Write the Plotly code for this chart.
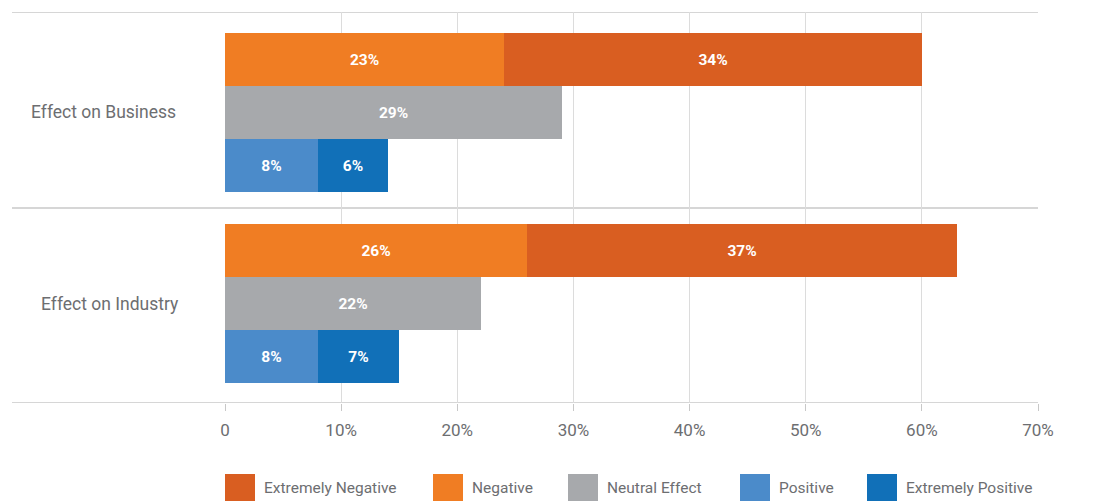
import plotly.graph_objects as go

# ---- data ----
categories = ["Effect on Business", "Effect on Industry"]
negative = [24, 26]
extremely_negative = [36, 37]
neutral = [29, 22]
positive = [8, 8]
extremely_positive = [6, 7]

negative_labels = ["23%", "26%"]
extremely_negative_labels = ["34%", "37%"]
neutral_labels = ["29%", "22%"]
positive_labels = ["8%", "8%"]
extremely_positive_labels = ["6%", "7%"]

x_ticks = [0, 10, 20, 30, 40, 50, 60, 70]
x_tick_labels = ["0", "10%", "20%", "30%", "40%", "50%", "60%", "70%"]

legend_names = ["Extremely Negative", "Negative", "Neutral Effect", "Positive", "Extremely Positive"]

# ---- style ----
colors = {"Extremely Negative": "#D95E21", "Negative": "#F07D23", "Neutral Effect": "#A7A9AC",
          "Positive": "#4B8BCA", "Extremely Positive": "#1170B8"}
FONT = "Roboto"
GREY_TXT = "#6d6e71"
GRID = "#dcdcdc"

BAND = 3.62
OFFSET = 0.9
Y_RANGE = [0, 7.4]

# page offset of the plot (the page body adds 8px)
FIG_W, FIG_H = 1104, 493
M_L, M_R, M_T, M_B = 217, 74, 4, 98
PLOT_W = FIG_W - M_L - M_R
PLOT_H = FIG_H - M_T - M_B
PAGE_OFF = 8


def row_y(j):
    return [i * BAND + OFFSET + j for i in range(len(categories))]


def px_to_paper_x(px):
    return (px - PAGE_OFF - M_L) / PLOT_W


def px_to_paper_y(py):
    return (FIG_H - M_B - (py - PAGE_OFF)) / PLOT_H


fig = go.Figure()


def add_bar(name, vals, labels, j):
    fig.add_trace(go.Bar(
        name=name, orientation="h", x=vals, y=row_y(j), width=1.0,
        marker=dict(color=colors[name], line=dict(width=0)),
        text=labels, textposition="inside", insidetextanchor="middle",
        textangle=0, constraintext="none",
        textfont=dict(family=FONT, size=15.5, color="white", weight="bold"),
        showlegend=False, hoverinfo="x+name",
    ))


add_bar("Negative", negative, negative_labels, 0)
add_bar("Extremely Negative", extremely_negative, extremely_negative_labels, 0)
add_bar("Neutral Effect", neutral, neutral_labels, 1)
add_bar("Positive", positive, positive_labels, 2)
add_bar("Extremely Positive", extremely_positive, extremely_positive_labels, 2)

# separators (category band boundaries)
mid_sep = (OFFSET + 2.5 + BAND + OFFSET - 0.5) / 2
sep_lines = [Y_RANGE[0], mid_sep, Y_RANGE[1]]
shapes = []
for yv in sep_lines:
    shapes.append(dict(type="line", xref="paper", yref="y", x0=px_to_paper_x(12), x1=1.0,
                       y0=yv, y1=yv, line=dict(color="#c8c8c8", width=1.5), layer="below"))

annotations = []
label_centers_px = [103, 110]
for i, cat in enumerate(categories):
    annotations.append(dict(text=cat, xref="paper", yref="y", x=px_to_paper_x(label_centers_px[i]),
                            y=row_y(1)[i], xanchor="center", yanchor="middle", showarrow=False,
                            font=dict(family=FONT, size=17.5, color=GREY_TXT)))

# custom legend with large square swatches
legend_x_px = [225, 433, 568, 740, 867]
for name, px in zip(legend_names, legend_x_px):
    shapes.append(dict(type="rect", xref="paper", yref="paper",
                       x0=px_to_paper_x(px), x1=px_to_paper_x(px + 30),
                       y0=px_to_paper_y(501), y1=px_to_paper_y(474),
                       fillcolor=colors[name], line=dict(width=0)))
    annotations.append(dict(text=name, xref="paper", yref="paper",
                            x=px_to_paper_x(px + 37), y=px_to_paper_y(488),
                            xanchor="left", yanchor="middle", showarrow=False,
                            font=dict(family=FONT, size=15.5, color=GREY_TXT)))

fig.update_layout(
    width=FIG_W, height=FIG_H,
    margin=dict(l=M_L, r=M_R, t=M_T, b=M_B),
    paper_bgcolor="white", plot_bgcolor="white",
    barmode="stack", bargap=0,
    showlegend=False,
    shapes=shapes, annotations=annotations,
    font=dict(family=FONT, color=GREY_TXT),
)
fig.update_xaxes(
    range=[0, 70], tickvals=x_ticks, ticktext=x_tick_labels,
    showgrid=True, gridcolor=GRID, gridwidth=1.2,
    zeroline=False, showline=False,
    ticks="outside", ticklen=7, tickcolor="#c8c8c8", tickwidth=1.2,
    ticklabelstandoff=5,
    tickfont=dict(family=FONT, size=17, color=GREY_TXT),
    fixedrange=True,
)
fig.update_yaxes(
    range=[Y_RANGE[1], Y_RANGE[0]], showticklabels=False, showgrid=False,
    zeroline=False, showline=False, ticks="", fixedrange=True,
)

fig.write_html("out.html")
